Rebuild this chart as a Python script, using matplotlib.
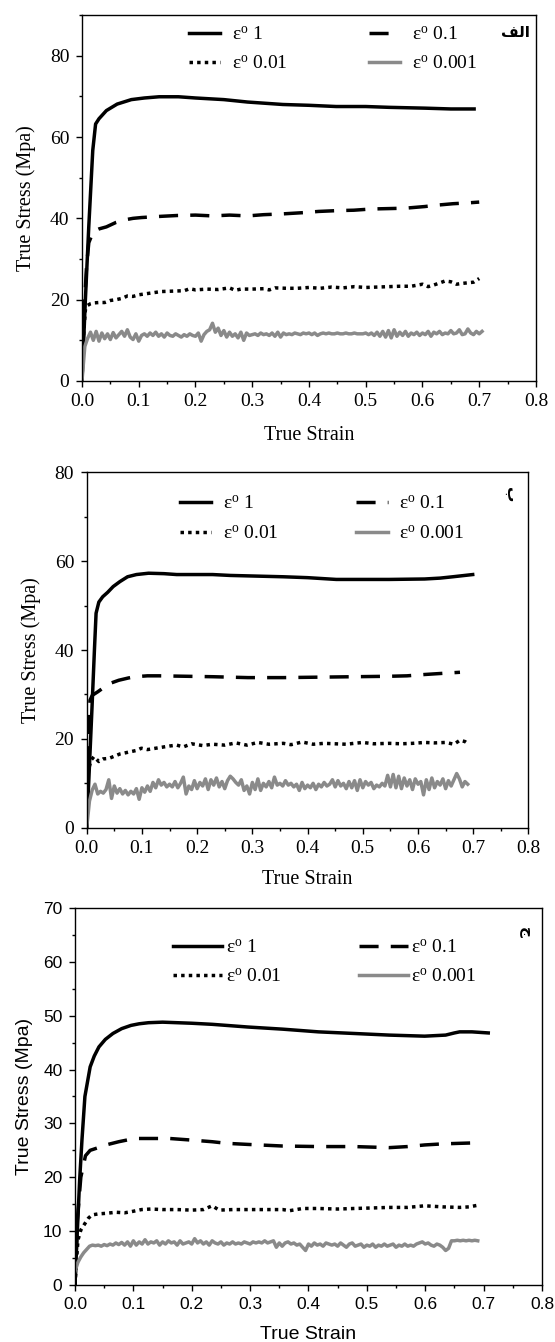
import numpy as np
import matplotlib
matplotlib.use('Agg')
import matplotlib.pyplot as plt
from matplotlib.ticker import MultipleLocator

plt.rcParams['mathtext.fontset'] = 'custom'
plt.rcParams['mathtext.rm'] = 'Liberation Serif'
plt.rcParams['mathtext.it'] = 'Liberation Serif:italic'

# legend labels
labels = [r'ε$^{\mathrm{o}}$ 1', r'ε$^{\mathrm{o}}$ 0.1',
          r'ε$^{\mathrm{o}}$ 0.01', r'ε$^{\mathrm{o}}$ 0.001']
panel_tags = ['\uFED2\uFEDF\uFE8D', '\u0628', '\u062C']  # الف, ب, ج

# ---- panel 1 (الف) ----
a_x1 = [0, 0.006, 0.012, 0.019, 0.024, 0.03, 0.043, 0.062, 0.087, 0.11, 0.136, 0.17,
        0.2, 0.25, 0.292, 0.354, 0.4, 0.448, 0.5, 0.541, 0.604, 0.65, 0.691]
a_y1 = [0, 20, 38, 56.7, 63.2, 64.5, 66.5, 68.1, 69.2, 69.6, 69.9, 69.9,
        69.6, 69.2, 68.6, 68.0, 67.8, 67.5, 67.5, 67.3, 67.1, 66.9, 66.9]
a_x01 = [0, 0.004, 0.008, 0.012, 0.02, 0.03, 0.043, 0.06, 0.074, 0.09, 0.105, 0.14, 0.168,
         0.2, 0.23, 0.26, 0.292, 0.32, 0.354, 0.39, 0.417, 0.45, 0.479, 0.51, 0.541, 0.57,
         0.604, 0.63, 0.654, 0.68, 0.70]
a_y01 = [0, 18, 28, 34, 36.8, 37.4, 37.9, 39.0, 39.6, 40.0, 40.2, 40.5, 40.7,
         40.8, 40.6, 40.8, 40.6, 40.9, 41.1, 41.4, 41.7, 41.9, 42.0, 42.3, 42.4, 42.5,
         42.9, 43.3, 43.6, 43.8, 44.0]
a_x001 = [0, 0.003, 0.006, 0.01, 0.015, 0.02, 0.03, 0.04, 0.05, 0.06, 0.07, 0.08, 0.09, 0.1,
          0.12, 0.14, 0.16, 0.18, 0.19, 0.2, 0.22, 0.24, 0.26, 0.27, 0.28, 0.3, 0.32, 0.33,
          0.34, 0.36, 0.38, 0.4, 0.42, 0.44, 0.46, 0.48, 0.5, 0.52, 0.54, 0.56, 0.58, 0.6,
          0.61, 0.62, 0.64, 0.65, 0.66, 0.67, 0.69, 0.7]
a_y001 = [0, 12, 17.5, 18.6, 19.0, 19.2, 19.3, 19.3, 19.8, 20.0, 20.3, 20.9, 20.8, 21.2,
          21.6, 22.0, 22.1, 22.2, 22.7, 22.4, 22.6, 22.5, 22.9, 22.3, 22.6, 22.6, 22.7, 22.4,
          22.9, 22.8, 22.8, 23.0, 22.8, 23.1, 22.9, 23.2, 23.0, 23.1, 23.2, 23.3, 23.3, 23.8,
          23.2, 23.6, 24.6, 24.4, 23.8, 24.0, 24.3, 25.2]
# sampled every 0.005 strain
a_y0001 = [0, 8.5, 10.5, 12.0, 10.0, 12.2, 9.8, 11.8, 10.4, 11.6, 10.2, 11.9, 10.6, 11.4,
           12.2, 11.0, 12.6, 10.8, 10.2, 11.6, 9.8, 11.2, 11.6, 11.0, 11.8, 11.2, 12.0, 11.0,
           11.6, 10.8, 11.8, 11.2, 11.0, 11.6, 11.2, 10.8, 11.4, 11.0, 11.6, 11.2, 11.0, 11.8,
           9.8, 11.4, 12.2, 12.6, 14.2, 12.0, 13.0, 11.2, 12.4, 10.8, 12.0, 11.0, 11.6, 10.6,
           12.0, 10.0, 11.8, 11.2, 11.4, 11.6, 11.2, 11.8, 11.4, 11.6, 11.2, 11.8, 11.0, 12.0,
           10.8, 11.8, 11.4, 11.6, 11.4, 11.8, 11.6, 11.4, 11.8, 11.6, 11.8, 11.4, 11.8, 11.2,
           11.6, 11.8, 11.6, 11.8, 11.6, 11.6, 11.8, 11.6, 11.6, 11.8, 11.6, 11.6, 11.8, 11.6,
           11.6, 11.6, 11.8, 11.4, 11.8, 11.2, 12.0, 11.0, 12.2, 10.8, 12.4, 10.6, 12.6, 11.0,
           12.0, 11.2, 12.2, 11.0, 11.8, 11.4, 12.0, 11.2, 11.8, 11.4, 12.2, 11.0, 12.0, 11.6,
           12.2, 11.4, 11.8, 11.6, 12.4, 11.6, 11.8, 12.6, 11.4, 11.6, 12.8, 11.8, 11.4, 12.2,
           11.6, 12.2]

# ---- panel 2 (ب) ----
b_x1 = [0, 0.005, 0.0096, 0.014, 0.017, 0.022, 0.029, 0.038, 0.048, 0.06, 0.074, 0.09,
        0.112, 0.14, 0.163, 0.2, 0.228, 0.26, 0.292, 0.356, 0.4, 0.452, 0.5, 0.548, 0.612,
        0.64, 0.663, 0.699]
b_y1 = [0, 14, 27, 40, 48.3, 50.8, 52, 53, 54.3, 55.4, 56.5, 57.0,
        57.3, 57.2, 57.0, 57.0, 57.0, 56.8, 56.7, 56.5, 56.3, 55.9, 55.9, 55.9, 56.0,
        56.2, 56.5, 57.0]
b_x01 = [0, 0.003, 0.006, 0.01, 0.02, 0.029, 0.04, 0.058, 0.075, 0.087, 0.11, 0.131, 0.18,
         0.228, 0.26, 0.292, 0.356, 0.42, 0.484, 0.548, 0.58, 0.612, 0.65, 0.676]
b_y01 = [0, 18, 28.7, 29.8, 30.6, 31.4, 32.4, 33.2, 33.7, 34.0, 34.2, 34.2, 34.1,
         34.0, 33.9, 33.8, 33.8, 33.9, 34.0, 34.1, 34.2, 34.5, 34.8, 35.0]
b_x001 = [0, 0.003, 0.008, 0.013, 0.018, 0.022, 0.03, 0.04, 0.048, 0.06, 0.075, 0.09,
          0.099, 0.11, 0.13, 0.15, 0.163, 0.175, 0.19, 0.21, 0.228, 0.25, 0.27, 0.29,
          0.31, 0.33, 0.356, 0.37, 0.39, 0.41, 0.43, 0.45, 0.47, 0.484, 0.5, 0.52,
          0.548, 0.57, 0.59, 0.612, 0.63, 0.65, 0.665, 0.676, 0.685, 0.692]
b_y001 = [0, 13, 15.2, 16.0, 15.4, 14.9, 15.5, 15.6, 16.0, 16.6, 17.0, 17.4,
          17.9, 17.6, 18.0, 18.4, 18.6, 18.2, 18.9, 18.5, 18.8, 18.6, 19.1, 18.6,
          19.2, 18.8, 19.0, 18.7, 19.3, 18.8, 19.0, 18.9, 18.8, 19.0, 19.2, 18.9,
          19.0, 18.9, 19.0, 19.2, 19.1, 19.2, 18.8, 19.7, 19.4, 18.8]
b_y0001 = [0, 6.0, 8.5, 9.8, 7.6, 8.2, 7.8, 8.6, 10.8, 6.6, 9.4, 7.8, 8.8, 7.6, 8.4, 7.4,
           8.2, 7.6, 8.8, 6.4, 9.0, 8.0, 9.4, 8.2, 10.2, 9.0, 10.8, 9.6, 10.2, 9.2, 9.8, 9.2,
           10.4, 9.0, 10.0, 11.4, 7.6, 9.4, 8.6, 10.6, 8.8, 10.2, 9.4, 11.0, 8.6, 10.8, 9.6,
           11.2, 9.2, 10.4, 8.8, 10.6, 11.6, 11.0, 10.2, 9.6, 10.8, 8.4, 9.4, 7.6, 10.2, 8.6,
           11.0, 8.4, 10.0, 9.2, 10.4, 9.0, 11.4, 9.6, 10.0, 9.4, 10.6, 9.6, 10.0, 9.2, 9.8,
           8.4, 10.2, 8.8, 9.6, 9.0, 10.0, 8.6, 9.8, 9.2, 10.2, 9.4, 9.8, 10.8, 9.2, 10.6, 9.4,
           10.0, 8.8, 10.4, 9.0, 10.6, 8.4, 10.8, 9.0, 10.4, 9.6, 10.2, 8.8, 9.6, 9.2, 10.0,
           9.4, 11.8, 9.2, 12.0, 9.0, 11.6, 8.8, 11.2, 9.4, 10.8, 8.6, 11.0, 9.8, 10.4, 7.4,
           10.8, 8.6, 11.2, 9.0, 10.4, 9.6, 11.0, 8.8, 10.6, 9.4, 10.8, 12.2, 11.0, 9.2, 10.4,
           9.8]

# ---- panel 3 (ج) ----
c_x1 = [0, 0.004, 0.008, 0.012, 0.017, 0.026, 0.033, 0.041, 0.052, 0.065, 0.08, 0.096,
        0.11, 0.126, 0.15, 0.175, 0.2, 0.235, 0.296, 0.356, 0.417, 0.478, 0.538, 0.599,
        0.635, 0.65, 0.659, 0.68, 0.708]
c_y1 = [0, 10, 19.5, 27, 35, 40.5, 42.5, 44.2, 45.6, 46.7, 47.6, 48.2,
        48.5, 48.7, 48.8, 48.7, 48.6, 48.4, 47.9, 47.5, 47.0, 46.7, 46.4, 46.2,
        46.4, 46.8, 47.0, 47.0, 46.8]
c_x01 = [0, 0.004, 0.01, 0.018, 0.026, 0.04, 0.053, 0.075, 0.102, 0.13, 0.162, 0.2, 0.235,
         0.26, 0.296, 0.356, 0.417, 0.478, 0.538, 0.57, 0.599, 0.63, 0.659, 0.69]
c_y01 = [0, 12, 20, 24, 25.0, 25.5, 26.0, 26.6, 27.2, 27.2, 27.2, 26.9, 26.6,
         26.3, 26.1, 25.8, 25.7, 25.7, 25.5, 25.7, 26.0, 26.2, 26.3, 26.4]
c_x001 = [0, 0.005, 0.01, 0.017, 0.023, 0.029, 0.04, 0.053, 0.07, 0.085, 0.096, 0.114,
          0.13, 0.15, 0.175, 0.2, 0.22, 0.235, 0.247, 0.27, 0.296, 0.32, 0.356, 0.368,
          0.39, 0.417, 0.45, 0.478, 0.51, 0.538, 0.57, 0.599, 0.63, 0.659, 0.675, 0.69]
c_y001 = [0, 8.3, 10.2, 11.4, 12.4, 13.0, 13.2, 13.3, 13.5, 13.4, 13.6, 14.0,
          14.1, 14.0, 14.0, 13.9, 14.0, 14.7, 13.9, 14.0, 14.0, 14.0, 14.0, 13.8,
          14.2, 14.2, 14.1, 14.2, 14.3, 14.4, 14.4, 14.7, 14.5, 14.4, 14.5, 14.8]
c_y0001 = [2.5, 4.2, 5.2, 6.0, 6.6, 7.2, 7.4, 7.3, 7.4, 7.2, 7.5, 7.3, 7.6, 7.4, 7.8, 7.5,
           7.9, 7.4, 8.0, 7.2, 8.2, 7.4, 8.0, 7.6, 8.4, 7.6, 8.0, 7.8, 8.2, 7.4, 8.0, 7.6,
           8.2, 7.8, 8.0, 7.4, 8.2, 7.6, 7.8, 8.0, 7.6, 8.6, 7.8, 8.2, 7.6, 8.0, 7.4, 8.2,
           7.8, 7.6, 8.0, 7.4, 7.8, 7.6, 8.0, 7.6, 7.8, 7.6, 8.0, 7.8, 7.6, 8.0, 7.8, 8.0,
           7.8, 8.2, 7.8, 8.0, 8.2, 7.0, 7.8, 7.2, 7.8, 8.0, 7.6, 7.8, 7.4, 7.6, 7.0, 6.4,
           7.6, 7.2, 7.8, 7.4, 7.6, 7.2, 7.8, 7.6, 7.4, 7.6, 7.2, 7.8, 7.4, 7.0, 7.6, 7.8,
           7.2, 7.4, 7.6, 7.0, 7.4, 7.2, 7.6, 7.0, 7.4, 7.2, 7.6, 7.2, 7.4, 7.6, 7.0, 7.4,
           7.2, 7.6, 7.2, 7.4, 7.2, 7.6, 7.8, 8.0, 7.6, 7.8, 7.4, 7.2, 7.6, 7.4, 7.0, 6.4,
           6.8, 8.2, 8.2, 8.3, 8.2, 8.3, 8.2, 8.3, 8.2, 8.3, 8.2]

GRAY = '#8a8a8a'
step = 0.005

panels = [
    dict(series=[(a_x1, a_y1), (a_x01, a_y01), (a_x001, a_y001),
                 (np.arange(len(a_y0001)) * step, a_y0001)],
         rect=[0.1477, 0.7161, 0.818, 0.2727], ylim=90, ymaj=20, ymin=10,
         font='Liberation Serif', fs_tick=14, fs_lab=14.5, ylpad=10, xlpad=11,
         tag_xy=(0.763, 85.6), tag_rot=0,
         leg=(0.236, 0.97), hl=1.6, htp=0.6, cs=4.2),
    dict(series=[(b_x1, b_y1), (b_x01, b_y01), (b_x001, b_y001),
                 (np.arange(len(b_y0001)) * step, b_y0001)],
         rect=[0.1562, 0.3832, 0.796, 0.2648], ylim=80, ymaj=20, ymin=10,
         font='Liberation Serif', fs_tick=14, fs_lab=14.5, ylpad=10, xlpad=9,
         tag_xy=(0.768, 74.9), tag_rot=-90,
         leg=(0.212, 0.935), hl=1.6, htp=0.6, cs=4.0),
    dict(series=[(c_x1, c_y1), (c_x01, c_y01), (c_x001, c_y001),
                 (np.arange(len(c_y0001)) * step, c_y0001)],
         rect=[0.1351, 0.0425, 0.8414, 0.2809], ylim=70, ymaj=10, ymin=5,
         font='Liberation Sans', fs_tick=12.5, fs_lab=14, ylpad=7, xlpad=10,
         tag_xy=(0.773, 65.5), tag_rot=-90,
         leg=(0.21, 0.918), hl=2.5, htp=0.2, cs=4.0),
]

fig = plt.figure(figsize=(5.55, 13.42), dpi=100)

for i, p in enumerate(panels):
    ax = fig.add_axes(p['rect'])
    styles = [dict(color='black', ls='-'),
              dict(color='black', ls=(0, (5.5, 3.5))),
              dict(color='black', ls=(0, (1, 1.2))),
              dict(color=GRAY, ls='-')]
    lines = []
    for (x, y), st, lab in zip(p['series'], styles, labels):
        ln, = ax.plot(x, y, lw=2.5, label=lab, **st)
        lines.append(ln)

    ax.set_xlim(0, 0.8)
    ax.set_ylim(0, p['ylim'])
    ax.xaxis.set_major_locator(MultipleLocator(0.1))
    ax.xaxis.set_minor_locator(MultipleLocator(0.05))
    ax.yaxis.set_major_locator(MultipleLocator(p['ymaj']))
    ax.yaxis.set_minor_locator(MultipleLocator(p['ymin']))
    ax.xaxis.set_major_formatter(plt.FuncFormatter(lambda v, _: f'{v:.1f}'))
    ax.yaxis.set_major_formatter(plt.FuncFormatter(lambda v, _: f'{v:.0f}'))
    ax.tick_params(which='major', direction='out', length=4, width=1, pad=5)
    ax.tick_params(which='minor', direction='out', length=2.5, width=1)
    for sp in ax.spines.values():
        sp.set_linewidth(1)

    for t in ax.get_xticklabels() + ax.get_yticklabels():
        t.set_fontfamily(p['font'])
        t.set_fontsize(p['fs_tick'])
    ax.set_xlabel('True Strain', fontfamily=p['font'], fontsize=p['fs_lab'],
                  labelpad=p['xlpad'])
    ax.set_ylabel('True Stress (Mpa)', fontfamily=p['font'], fontsize=p['fs_lab'],
                  labelpad=p['ylpad'])

    order = [lines[0], lines[2], lines[1], lines[3]]
    ax.legend(order, [l.get_label() for l in order], ncol=2, loc='upper left',
              bbox_to_anchor=p['leg'], frameon=False, borderpad=0, borderaxespad=0,
              handlelength=p['hl'], handletextpad=p['htp'], columnspacing=p['cs'],
              labelspacing=0.6, prop={'family': 'Liberation Serif', 'size': 14})

    ax.text(p['tag_xy'][0], p['tag_xy'][1], panel_tags[i], fontsize=11,
            fontfamily='DejaVu Sans', fontweight='bold', rotation=p['tag_rot'],
            ha='center', va='center')

fig.savefig('out.png', dpi=100)
